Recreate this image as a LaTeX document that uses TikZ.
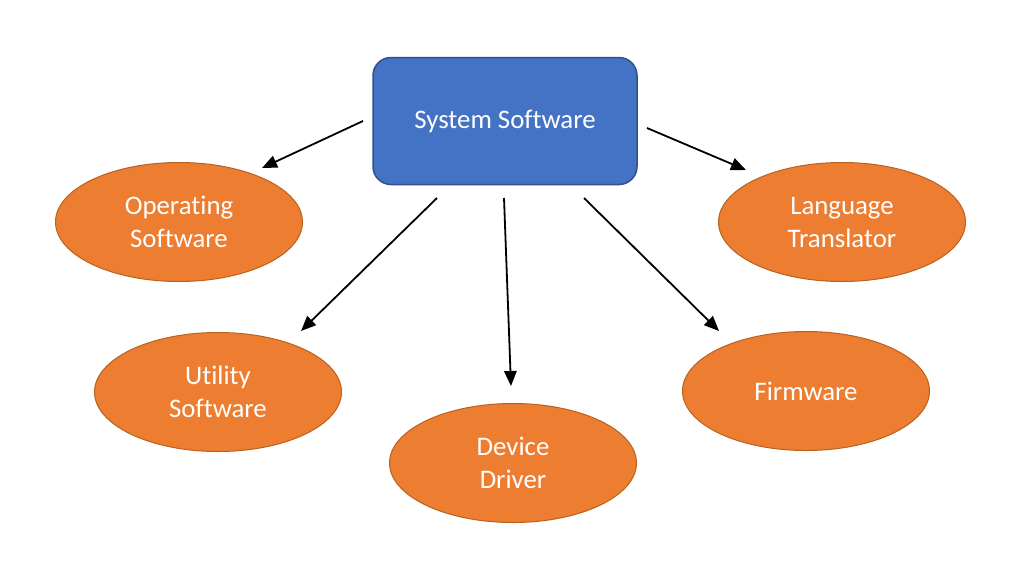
\documentclass[tikz,border=0pt]{standalone}
\usepackage{fontspec}
\setmainfont{Carlito}[Ligatures=NoCommon]
\usetikzlibrary{shapes.geometric,arrows.meta}
\definecolor{boxblue}{HTML}{4472C4}
\definecolor{boxedge}{HTML}{2F528F}
\definecolor{ellorange}{HTML}{ED7D31}
\definecolor{elledge}{HTML}{B8621F}
\begin{document}
\begin{tikzpicture}[x=1pt,y=-1pt,
  sysbox/.style={draw=boxedge,fill=boxblue,line width=1.5pt,rounded corners=18pt,
    minimum width=264pt,minimum height=127pt,inner sep=0pt,text=white,
    font=\fontsize{26.8}{32}\selectfont},
  item/.style={ellipse,draw=elledge,fill=ellorange,line width=1pt,
    minimum width=247pt,minimum height=119pt,inner sep=0pt,text=white,align=center,
    font=\fontsize{26.8}{33}\selectfont},
  conn/.style={line width=1.8pt,-{Triangle[length=15pt,width=12.5pt]}}]
\useasboundingbox (0,0) rectangle (1015,579);
\fill[white] (0,0) rectangle (1015,579);
\node[sysbox] (sys) at (505,121) {System Software};
\node[item] (os) at (179,222) {Operating\\Software};
\node[item] (lt) at (842,222) {Language\\Translator};
\node[item] (us) at (218,392) {Utility\\Software};
\node[item] (dd) at (513,463) {Device\\Driver};
\node[item] (fw) at (806,391) {Firmware};
\coordinate (a1) at (363,121); \coordinate (b1) at (262,168);
\coordinate (a2) at (437,198); \coordinate (b2) at (301,331);
\coordinate (a3) at (504,198); \coordinate (b3) at (511,386);
\coordinate (a4) at (584,198); \coordinate (b4) at (719,331);
\coordinate (a5) at (647,128); \coordinate (b5) at (746,170);
\draw[conn] (a1) -- (b1);
\draw[conn] (a2) -- (b2);
\draw[conn] (a3) -- (b3);
\draw[conn] (a4) -- (b4);
\draw[conn] (a5) -- (b5);
\end{tikzpicture}
\end{document}
